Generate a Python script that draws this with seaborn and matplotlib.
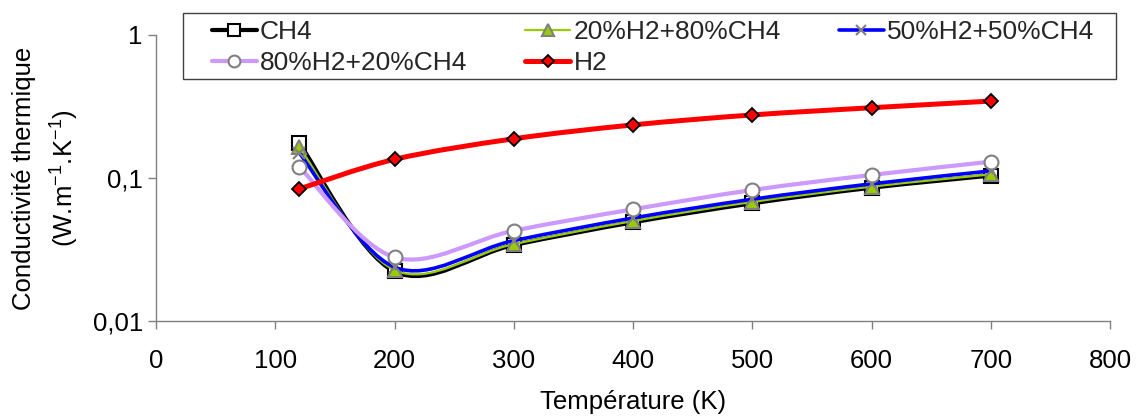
import numpy as np
import matplotlib
matplotlib.use("Agg")
import matplotlib.pyplot as plt
import seaborn as sns
from matplotlib.path import Path
from matplotlib.patches import PathPatch, Rectangle
from matplotlib.lines import Line2D
from matplotlib.ticker import NullLocator

# ==============================================================================
# DONNEES
# ==============================================================================
temperature = [120, 200, 300, 400, 500, 600, 700]

ch4 = [0.176, 0.0222, 0.0340, 0.0490, 0.0665, 0.0855, 0.104]
h2_20_ch4_80 = [0.165, 0.0227, 0.0345, 0.0500, 0.0680, 0.0870, 0.106]
h2_50_ch4_50 = [0.150, 0.0238, 0.0365, 0.0525, 0.0710, 0.0910, 0.112]
h2_80_ch4_20 = [0.120, 0.0279, 0.0428, 0.0604, 0.0824, 0.105, 0.130]
h2 = [0.0838, 0.135, 0.188, 0.235, 0.276, 0.310, 0.345]

noms = ["CH4", "20%H2+80%CH4", "50%H2+50%CH4", "80%H2+20%CH4", "H2"]
series = [ch4, h2_20_ch4_80, h2_50_ch4_50, h2_80_ch4_20, h2]

x_ticks = [0, 100, 200, 300, 400, 500, 600, 700, 800]
y_ticks = [0.01, 0.1, 1]
y_tick_labels = ["0,01", "0,1", "1"]

# style de chaque serie (ligne lissee + marqueur)
styles = [
    dict(color="black", lw=3.0, marker="s", ms=9.5, mfc="white", mec="black", mew=1.5),
    dict(color="#99CC00", lw=1.6, marker="^", ms=10, mfc="#99CC00", mec="#808080", mew=1.5),
    dict(color="#0000FF", lw=2.6, marker="x", ms=9, mfc="none", mec="#808080", mew=1.5),
    dict(color="#CC99FF", lw=3.0, marker="o", ms=10, mfc="white", mec="#808080", mew=1.5),
    dict(color="#FF0000", lw=3.6, marker="D", ms=7, mfc="#FF0000", mec="black", mew=1.3),
]


def courbe_lisse(x, y):
    # courbe de Bezier facon Excel (Catmull-Rom), calculee en x / log10(y)
    pts = np.column_stack([np.asarray(x, float), np.log10(y)])
    n = len(pts)
    verts = [pts[0]]
    codes = [Path.MOVETO]
    for i in range(n - 1):
        p_avant = pts[max(i - 1, 0)]
        p_apres = pts[min(i + 2, n - 1)]
        c1 = pts[i] + (pts[i + 1] - p_avant) / 6
        c2 = pts[i + 1] - (p_apres - pts[i]) / 6
        verts += [c1, c2, pts[i + 1]]
        codes += [Path.CURVE4] * 3
    verts = np.array(verts)
    verts[:, 1] = 10 ** verts[:, 1]
    return Path(verts, codes)


# ==============================================================================
# FIGURE
# ==============================================================================
sns.set_theme(style="ticks")
plt.rcParams['font.family'] = ['Liberation Sans', 'DejaVu Sans']
plt.rcParams['mathtext.fontset'] = 'custom'
plt.rcParams['mathtext.rm'] = 'Liberation Sans'
plt.rcParams['mathtext.it'] = 'Liberation Sans'

taille = 18.5
W, H = 1139, 417
fig = plt.figure(figsize=(W / 100, H / 100), dpi=100)
ax = fig.add_axes([156 / W, 1 - 321 / H, (1110 - 156) / W, (321 - 35) / H])
ax.set_yscale('log')

for i, (valeurs, st) in enumerate(zip(series, styles)):
    ax.add_patch(PathPatch(courbe_lisse(temperature, valeurs), fill=False,
                           edgecolor=st["color"], lw=st["lw"], zorder=2 + 2 * i,
                           capstyle='round', joinstyle='round'))
    sns.lineplot(x=temperature, y=valeurs, ax=ax, linestyle='none',
                 marker=st["marker"], markersize=st["ms"],
                 markerfacecolor=st["mfc"], markeredgecolor=st["mec"],
                 markeredgewidth=st["mew"], color=st["mec"],
                 zorder=3 + 2 * i, legend=False)

ax.set_xlim(0, 800)
ax.set_ylim(0.01, 1)
ax.set_xticks(x_ticks)
ax.set_yticks(y_ticks)
ax.set_yticklabels(y_tick_labels)
ax.yaxis.set_minor_locator(NullLocator())

for cote in ["top", "right"]:
    ax.spines[cote].set_visible(False)
for cote in ["left", "bottom"]:
    ax.spines[cote].set_color("#808080")
    ax.spines[cote].set_linewidth(1.0)

ax.tick_params(axis='both', direction='out', length=6, width=1.0,
               color='#808080', labelsize=taille, labelcolor='black')
ax.tick_params(axis='x', pad=14)
ax.tick_params(axis='y', pad=3.5)

ax.set_xlabel("Température (K)", fontsize=taille, color='black')
ax.xaxis.set_label_coords(0.5, -0.243)
ax.set_ylabel("Conductivité thermique\n(W.m$^{\\mathregular{-1}}$.K$^{\\mathregular{-1}}$)",
              fontsize=taille, color='black', multialignment='center',
              linespacing=1.5)
ax.yaxis.set_label_coords(-0.079, 0.5)

# ==============================================================================
# LEGENDE (cadre dessine a part, remplissage par lignes)
# ==============================================================================
poignees = [Line2D([0], [0], color=st["color"], lw=st["lw"], marker=st["marker"],
                   markersize=st["ms"] * 0.85, markerfacecolor=st["mfc"],
                   markeredgecolor=st["mec"], markeredgewidth=st["mew"])
            for st in styles]
ordre = [0, 3, 1, 4, 2]

cadre = Rectangle((183 / W, 1 - 79 / H), (1116 - 183) / W, (79 - 13) / H,
                  transform=fig.transFigure, facecolor='white',
                  edgecolor='#404040', lw=1.0, zorder=4)
fig.add_artist(cadre)

fig.legend([poignees[k] for k in ordre], [noms[k] for k in ordre],
           ncol=3, loc='upper left',
           bbox_to_anchor=(212 / W, 1 - 20 / H), frameon=False,
           fontsize=19, handlelength=1.7, handletextpad=0.12,
           columnspacing=2.2, labelspacing=0.28, borderpad=0,
           borderaxespad=0).set_zorder(5)

fig.savefig("out.png", dpi=100)
